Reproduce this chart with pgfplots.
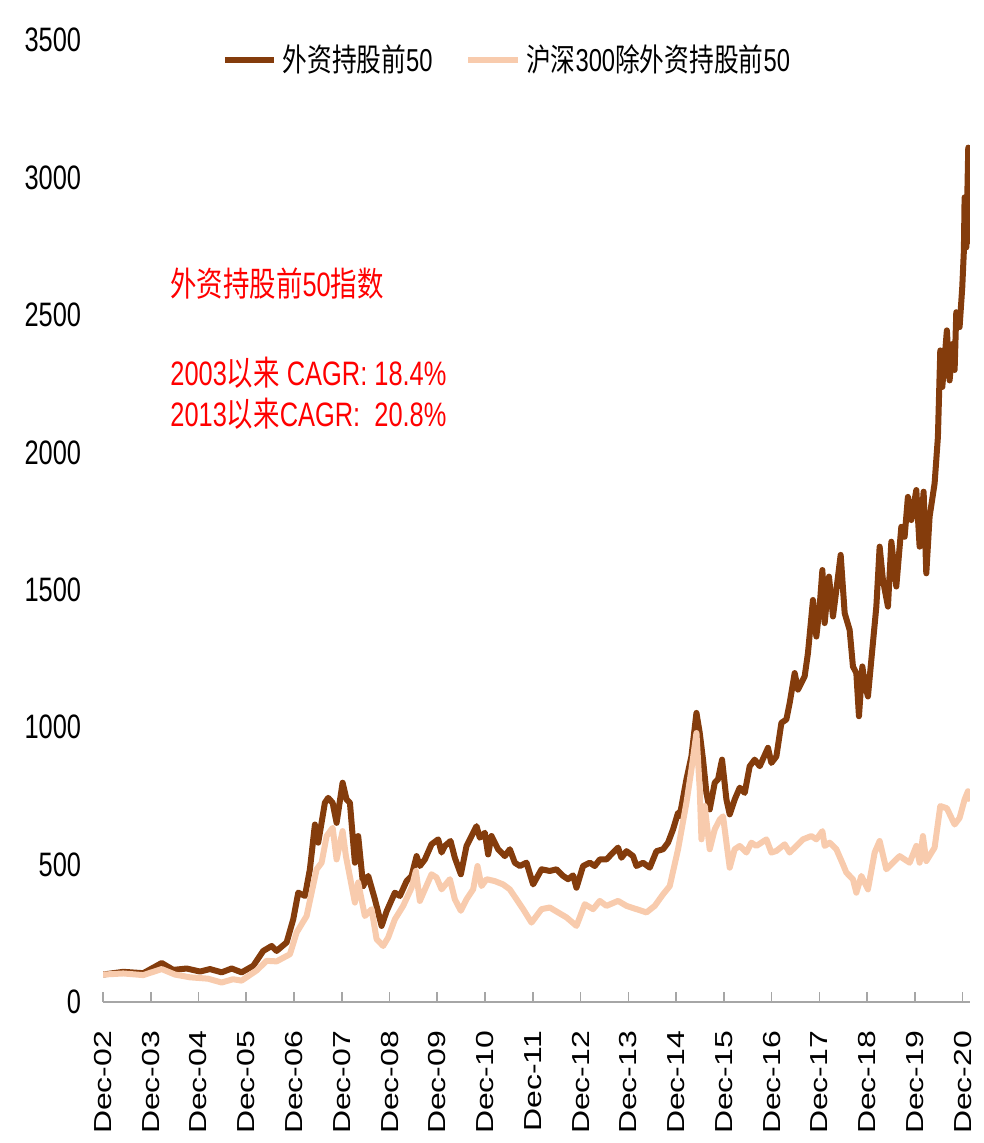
\documentclass[border=0pt]{standalone}
\usepackage{fontspec}
\setmainfont{Liberation Sans}[FakeStretch=0.75]
\newfontfamily\xfont{Liberation Sans}[FakeStretch=1.3]
\newfontfamily\cjk{Noto Sans CJK SC}[FakeStretch=0.78]
\usepackage{pgfplots}
\usepackage{pgfplotstable}
\pgfplotsset{compat=1.18}
\definecolor{darkb}{HTML}{843C0C}
\definecolor{lightp}{HTML}{F8CBAD}
\pgfplotstableread{
t v
0 100
0.425 110
0.843 105
1.229 142
1.471 117
1.752 122
2.030 111
2.240 120
2.484 108
2.694 122
2.903 108
3.146 132
3.355 186
3.531 204
3.635 186
3.845 217
3.983 301
4.088 398
4.228 386
4.332 483
4.437 646
4.506 580
4.646 725
4.715 743
4.808 725
4.891 652
5.017 798
5.100 737
5.170 725
5.274 507
5.343 604
5.448 422
5.553 459
5.693 374
5.833 277
5.938 330
6.111 398
6.216 386
6.356 440
6.461 459
6.566 531
6.635 495
6.740 519
6.879 574
7.018 592
7.089 544
7.158 568
7.277 586
7.367 525
7.493 465
7.612 568
7.717 604
7.821 640
7.890 598
7.995 616
8.064 537
8.135 604
8.273 556
8.414 531
8.518 556
8.623 507
8.728 495
8.868 507
9.006 428
9.182 483
9.355 477
9.496 483
9.634 459
9.738 447
9.843 461
9.914 416
10.052 495
10.193 507
10.297 495
10.402 519
10.542 519
10.680 544
10.785 562
10.856 525
10.961 549
11.099 531
11.170 495
11.308 507
11.448 489
11.589 549
11.727 556
11.831 580
11.936 628
12.041 689
12.076 677
12.216 810
12.321 894
12.426 1052
12.495 979
12.564 882
12.635 761
12.704 701
12.809 798
12.878 810
12.962 882
13.054 737
13.123 683
13.227 737
13.332 780
13.437 761
13.541 858
13.646 882
13.751 858
13.924 925
13.995 870
14.100 894
14.205 1016
14.309 1028
14.378 1088
14.483 1197
14.552 1137
14.692 1185
14.761 1270
14.866 1463
14.937 1330
15.006 1439
15.063 1572
15.111 1379
15.201 1548
15.285 1403
15.356 1500
15.446 1627
15.530 1415
15.634 1354
15.703 1221
15.774 1197
15.829 1040
15.900 1221
15.948 1161
16.017 1112
16.088 1245
16.193 1439
16.262 1657
16.331 1536
16.436 1439
16.507 1675
16.611 1512
16.716 1729
16.785 1693
16.854 1838
16.925 1754
17.030 1863
17.099 1657
17.183 1857
17.239 1560
17.308 1766
17.413 1887
17.482 2056
17.532 2371
17.574 2238
17.670 2444
17.727 2262
17.796 2395
17.832 2300
17.867 2510
17.936 2456
17.992 2601
18.026 2734
18.041 2928
18.076 2746
18.118 3109
18.160 2758
}\darkdata
\pgfplotstableread{
t v
0 100
0.425 104
0.843 98
1.229 120
1.507 100
1.821 90
2.198 85
2.484 71
2.721 83
2.903 78
3.217 115
3.426 150
3.635 148
3.914 174
4.054 253
4.263 313
4.368 398
4.473 483
4.577 507
4.682 604
4.808 634
4.891 519
5.017 622
5.086 531
5.274 362
5.343 435
5.483 313
5.624 338
5.728 229
5.866 204
5.971 235
6.111 301
6.285 350
6.461 416
6.551 477
6.635 368
6.740 410
6.879 465
6.984 453
7.089 410
7.263 447
7.367 374
7.493 332
7.612 374
7.750 410
7.842 495
7.926 422
8.031 447
8.204 440
8.378 428
8.518 410
8.658 374
8.797 338
8.972 289
9.182 338
9.355 344
9.529 326
9.705 308
9.914 277
10.088 356
10.262 338
10.402 368
10.542 350
10.785 368
10.961 350
11.170 338
11.379 326
11.553 350
11.727 392
11.867 422
12.041 556
12.216 725
12.321 846
12.426 979
12.495 773
12.531 592
12.600 713
12.704 556
12.809 628
12.914 664
12.983 676
13.054 580
13.123 489
13.227 556
13.332 568
13.472 544
13.577 580
13.681 568
13.891 592
13.995 544
14.100 550
14.274 574
14.378 544
14.518 568
14.657 592
14.832 604
14.937 592
15.063 622
15.111 568
15.215 580
15.356 556
15.494 501
15.565 471
15.703 447
15.774 398
15.879 459
16.017 410
16.158 544
16.262 586
16.402 483
16.540 507
16.681 531
16.890 507
17.030 568
17.099 507
17.168 604
17.239 513
17.413 562
17.532 713
17.670 705
17.832 646
17.936 670
18.041 737
18.111 767
18.167 731
}\lightdata
\begin{document}
\begin{tikzpicture}
\begin{axis}[
  scale only axis,
  width=317.2pt, height=352pt,
  xmin=0, xmax=18.15, ymin=0, ymax=3500,
  axis x line=bottom, axis y line=left,
  x axis line style={-, draw=gray!70, line width=0.7pt},
  y axis line style={draw=none},
  xtick={0,...,18},
  xticklabels={Dec-02,Dec-03,Dec-04,Dec-05,Dec-06,Dec-07,Dec-08,Dec-09,Dec-10,Dec-11,Dec-12,Dec-13,Dec-14,Dec-15,Dec-16,Dec-17,Dec-18,Dec-19,Dec-20},
  x tick style={draw=gray!70, line width=0.6pt},
  major tick length=3.7pt,
  tick align=inside,
  xticklabel style={font=\xfont\fontsize{9}{9}\selectfont, rotate=90, anchor=east},
  xticklabel shift=7pt,
  ytick={0,500,...,3500},
  y tick style={draw=none},
  yticklabel style={font=\fontsize{12.4}{14}\selectfont, anchor=east},
  yticklabel shift=4.5pt,
  /pgf/number format/1000 sep={},
  /pgf/number format/assume math mode=true,
  legend style={at={(0.468,0.979)}, anchor=center, draw=none, fill=none,
    font=\fontsize{11.6}{14}\selectfont, legend columns=2,
    /tikz/every even column/.append style={column sep=10pt},
    inner sep=0pt},
  legend cell align=left,
  legend image code/.code={\draw[#1, line width=2.2pt] (0pt,0pt) -- (18pt,0pt);},
  line join=round,
]
\addplot[darkb, line width=2.2pt] table[x=t,y=v] {\darkdata};
\addlegendentry{{\cjk 外资持股前}50}
\addplot[lightp, line width=2.2pt] table[x=t,y=v] {\lightdata};
\addlegendentry{{\cjk 沪深}300{\cjk 除外资持股前}50}
\node[anchor=west, text=red, font=\fontsize{12.4}{14}\selectfont, inner sep=0pt] at (axis cs:1.40,2614) {{\cjk 外资持股前}50{\cjk 指数}};
\node[anchor=west, text=red, font=\fontsize{12.4}{14}\selectfont, inner sep=0pt] at (axis cs:1.40,2291) {2003{\cjk 以来} CAGR: 18.4\%};
\node[anchor=west, text=red, font=\fontsize{12.4}{14}\selectfont, inner sep=0pt] at (axis cs:1.40,2139) {2013{\cjk 以来}CAGR:\ \ 20.8\%};
\coordinate (bl) at (rel axis cs:0,0);
\end{axis}
\path (bl) ++(-37.7pt,-51.2pt) rectangle ++(360pt,417.9pt);
\end{tikzpicture}
\end{document}
